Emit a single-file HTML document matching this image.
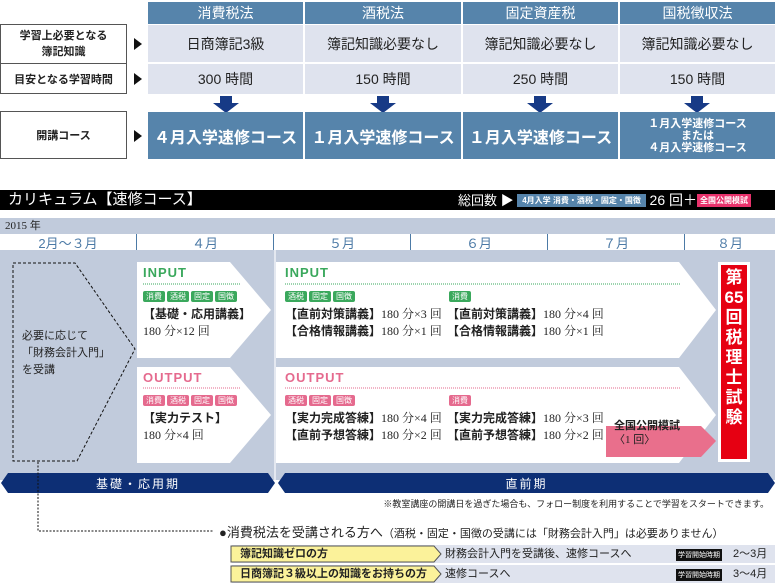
<!DOCTYPE html>
<html><head><meta charset="utf-8">
<style>
*{margin:0;padding:0;box-sizing:border-box}
body{width:775px;height:586px;position:relative;background:#fff;font-family:"Liberation Sans","Noto Sans CJK JP",sans-serif;color:#222;overflow:hidden}
.a{position:absolute}
.c{display:flex;align-items:center;justify-content:center;text-align:center}
.hd{background:#5684ab;color:#fff;font-size:14px}
.lt{background:#dfe3ee;font-size:14px}
.cr{background:#5684ab;color:#fff;font-weight:bold;font-size:16px}
.lb{border:1.5px solid #555;font-size:11px;font-weight:bold;background:#fff}
.tri{width:0;height:0;border-left:8px solid #111;border-top:6px solid transparent;border-bottom:6px solid transparent}
.tg{line-height:11px;height:11px;font-size:0}
.tag{display:inline-block;font-size:8px;color:#fff;padding:0 3px;margin-right:2px;border-radius:2px;line-height:11px;height:11px}
.g{background:#3aa85c}.p{background:#e56a8e}
.t{font-size:12px;line-height:17px;font-family:"Liberation Serif","Noto Serif CJK SC",serif}
.t b{font-family:"Liberation Sans","Noto Sans CJK JP",sans-serif}
.hi{font-weight:bold;font-size:13px;letter-spacing:1px}
</style></head><body>
<div class="a hd c" style="left:148px;top:2px;width:155px;height:22px">消費税法</div>
<div class="a hd c" style="left:305px;top:2px;width:156px;height:22px">酒税法</div>
<div class="a hd c" style="left:463px;top:2px;width:155px;height:22px">固定資産税</div>
<div class="a hd c" style="left:620px;top:2px;width:155px;height:22px">国税徴収法</div>
<div class="a lt c" style="left:148px;top:25px;width:155px;height:37px">日商簿記3級</div>
<div class="a lt c" style="left:305px;top:25px;width:156px;height:37px">簿記知識必要なし</div>
<div class="a lt c" style="left:463px;top:25px;width:155px;height:37px">簿記知識必要なし</div>
<div class="a lt c" style="left:620px;top:25px;width:155px;height:37px">簿記知識必要なし</div>
<div class="a lt c" style="left:148px;top:64px;width:155px;height:30px">300 時間</div>
<div class="a lt c" style="left:305px;top:64px;width:156px;height:30px">150 時間</div>
<div class="a lt c" style="left:463px;top:64px;width:155px;height:30px">250 時間</div>
<div class="a lt c" style="left:620px;top:64px;width:155px;height:30px">150 時間</div>
<svg class="a" style="left:0;top:94px" width="775" height="20">
<g fill="#173a86">
<path d="M220 2h12v7h7l-13 10-13-10h7z"/><path d="M377 2h12v7h7l-13 10-13-10h7z"/>
<path d="M534 2h12v7h7l-13 10-13-10h7z"/><path d="M691 2h12v7h7l-13 10-13-10h7z"/></g></svg>
<div class="a cr c" style="left:148px;top:112px;width:155px;height:47px">４月入学速修コース</div>
<div class="a cr c" style="left:305px;top:112px;width:156px;height:47px">１月入学速修コース</div>
<div class="a cr c" style="left:463px;top:112px;width:155px;height:47px">１月入学速修コース</div>
<div class="a cr c" style="left:620px;top:112px;width:155px;height:47px;font-size:11px;line-height:12px">１月入学速修コース<br>または<br>４月入学速修コース</div>
<div class="a lb c" style="left:0;top:24px;width:127px;height:40px;line-height:16px">学習上必要となる<br>簿記知識</div>
<div class="a lb c" style="left:0;top:63px;width:127px;height:31px">目安となる学習時間</div>
<div class="a lb c" style="left:0;top:111px;width:127px;height:48px">開講コース</div>
<div class="a tri" style="left:134px;top:38px"></div>
<div class="a tri" style="left:134px;top:73px"></div>
<div class="a tri" style="left:134px;top:130px"></div>
<div class="a" style="left:0;top:190px;width:775px;height:20px;background:#000"></div>
<div class="a" style="left:8px;top:190px;color:#fff;font-size:15px;line-height:20px">カリキュラム【速修コース】</div>
<div class="a" style="left:458px;top:190px;color:#fff;font-size:13px;line-height:20px;white-space:nowrap">総回数 ▶ <span style="background:#5684ab;font-size:8px;font-weight:bold;padding:2px 5px;vertical-align:2px">4月入学 消費・酒税・固定・国徴</span> <span style="font-size:14px">26 回＋</span><span style="background:#e8326c;font-size:8px;font-weight:bold;padding:2px 3px;vertical-align:2px">全国公開模試</span></div>
<div class="a" style="left:0;top:218px;width:775px;height:262px;background:#c1cbdc"></div>
<div class="a" style="left:5px;top:218px;font-size:11px;font-family:'Liberation Serif',serif;line-height:16px">2015 年</div>
<div class="a" style="left:0;top:234px;width:775px;height:16px;background:#fff"></div>
<div class="a c" style="left:0;top:234px;width:137px;height:16px;color:#4c7aa6;font-size:13px;border-right:1px solid #4c7aa6">2月～３月</div>
<div class="a c" style="left:137px;top:234px;width:137px;height:16px;color:#4c7aa6;font-size:13px;border-right:1px solid #4c7aa6">４月</div>
<div class="a c" style="left:274px;top:234px;width:137px;height:16px;color:#4c7aa6;font-size:13px;border-right:1px solid #4c7aa6">５月</div>
<div class="a c" style="left:411px;top:234px;width:137px;height:16px;color:#4c7aa6;font-size:13px;border-right:1px solid #4c7aa6">６月</div>
<div class="a c" style="left:548px;top:234px;width:137px;height:16px;color:#4c7aa6;font-size:13px;border-right:1px solid #4c7aa6">７月</div>
<div class="a c" style="left:685px;top:234px;width:90px;height:16px;color:#4c7aa6;font-size:13px">８月</div>
<div class="a" style="left:274px;top:250px;width:2px;height:230px;background:#e4e8f0"></div>
<svg class="a" style="left:0;top:250px" width="775" height="230">
<g fill="#fff">
<path d="M137 12h93l41 48-41 48h-93z"/><path d="M137 117h93l41 48-41 48h-93z"/>
<path d="M276 12h403l37 48-37 48h-403z"/><path d="M276 117h403l37 48-37 48h-403z"/>
</g>
<path d="M13 13h62l60 86-58 112h-64z" fill="none" stroke="#111" stroke-dasharray="3,2" stroke-width="1"/>
<path d="M606 176h95l15 15-15 16h-95z" fill="#e96f8c"/>
<rect x="718" y="12" width="32" height="200" fill="#fff"/>
<rect x="721" y="15" width="26" height="194" fill="#e60012"/>
<g stroke-dasharray="1,1" stroke-width="1">
<line x1="143" y1="34" x2="240" y2="34" stroke="#3aa85c"/><line x1="285" y1="34" x2="680" y2="34" stroke="#3aa85c"/>
<line x1="143" y1="138" x2="240" y2="138" stroke="#e56a8e"/><line x1="285" y1="138" x2="680" y2="138" stroke="#e56a8e"/>
</g></svg>
<div class="a" style="left:22px;top:328px;font-size:11px;line-height:17px">必要に応じて<br>「財務会計入門」<br>を受講</div>
<div class="a hi" style="left:143px;top:265px;color:#3aa85c">INPUT</div>
<div class="a tg" style="left:143px;top:291px"><span class="tag g">消費</span><span class="tag g">酒税</span><span class="tag g">固定</span><span class="tag g">国徴</span></div>
<div class="a t" style="left:143px;top:306px"><b>【基礎・応用講義】</b><br>180 分×12 回</div>
<div class="a hi" style="left:143px;top:370px;color:#e56a8e">OUTPUT</div>
<div class="a tg" style="left:143px;top:395px"><span class="tag p">消費</span><span class="tag p">酒税</span><span class="tag p">固定</span><span class="tag p">国徴</span></div>
<div class="a t" style="left:143px;top:410px"><b>【実力テスト】</b><br>180 分×4 回</div>
<div class="a hi" style="left:285px;top:265px;color:#3aa85c">INPUT</div>
<div class="a tg" style="left:285px;top:291px"><span class="tag g">酒税</span><span class="tag g">固定</span><span class="tag g">国徴</span></div>
<div class="a t" style="left:285px;top:306px;white-space:nowrap"><b>【直前対策講義】</b>180 分×3 回<br><b>【合格情報講義】</b>180 分×1 回</div>
<div class="a tg" style="left:449px;top:291px"><span class="tag g">消費</span></div>
<div class="a t" style="left:447px;top:306px;white-space:nowrap"><b>【直前対策講義】</b>180 分×4 回<br><b>【合格情報講義】</b>180 分×1 回</div>
<div class="a hi" style="left:285px;top:370px;color:#e56a8e">OUTPUT</div>
<div class="a tg" style="left:285px;top:395px"><span class="tag p">酒税</span><span class="tag p">固定</span><span class="tag p">国徴</span></div>
<div class="a t" style="left:285px;top:410px;white-space:nowrap"><b>【実力完成答練】</b>180 分×4 回<br><b>【直前予想答練】</b>180 分×2 回</div>
<div class="a tg" style="left:449px;top:395px"><span class="tag p">消費</span></div>
<div class="a t" style="left:447px;top:410px;white-space:nowrap"><b>【実力完成答練】</b>180 分×3 回<br><b>【直前予想答練】</b>180 分×2 回</div>
<div class="a" style="left:614px;top:419px;font-size:11px;font-weight:bold;line-height:14px">全国公開模試<br><span style="font-weight:normal;font-family:'Liberation Serif',serif">〈1 回〉</span></div>
<div class="a" style="left:721px;top:268px;width:26px;color:#fff;font-weight:bold;font-size:17px;line-height:20px;text-align:center">第<br>65<br>回<br>税<br>理<br>士<br>試<br>験</div>
<svg class="a" style="left:0;top:473px" width="775" height="20">
<path d="M8 0h260l7 10-7 10h-260l-7-10z" fill="#0d2f75"/>
<path d="M285 0h483l7 10-7 10h-483l-7-10z" fill="#0d2f75"/>
</svg>
<div class="a c" style="left:0;top:473px;width:276px;height:20px;color:#fff;font-size:12px;letter-spacing:2px">基礎・応用期</div>
<div class="a c" style="left:278px;top:473px;width:497px;height:20px;color:#fff;font-size:12px;letter-spacing:2px">直前期</div>
<div class="a" style="right:6px;top:497px;font-size:9px;white-space:nowrap">※教室講座の開講日を過ぎた場合も、フォロー制度を利用することで学習をスタートできます。</div>
<svg class="a" style="left:0;top:460px" width="220" height="75"><path d="M38 2v69h176" fill="none" stroke="#111" stroke-dasharray="2,1.5"/></svg>
<div class="a" style="left:219px;top:522px;font-size:13px;white-space:nowrap">●消費税法を受講される方へ<span style="font-size:11px">（酒税・固定・国徴の受講には「財務会計入門」は必要ありません）</span></div>
<div class="a" style="left:232px;top:545px;width:543px;height:18px;background:#dfe3ee"></div>
<div class="a" style="left:232px;top:565px;width:543px;height:18px;background:#dfe3ee"></div>
<svg class="a" style="left:230px;top:545px" width="215" height="40">
<path d="M1 1h203l7 8-7 8h-203z" fill="#fbf29a" stroke="#555"/>
<path d="M1 21h203l7 8-7 8h-203z" fill="#fbf29a" stroke="#555"/></svg>
<div class="a" style="left:240px;top:545px;font-size:11px;font-weight:bold;line-height:18px">簿記知識ゼロの方</div>
<div class="a" style="left:240px;top:565px;font-size:11px;font-weight:bold;line-height:18px">日商簿記３級以上の知識をお持ちの方</div>
<div class="a" style="left:445px;top:545px;font-size:11px;line-height:18px">財務会計入門を受講後、速修コースへ</div>
<div class="a" style="left:445px;top:565px;font-size:11px;line-height:18px">速修コースへ</div>
<div class="a" style="left:676px;top:549px;background:#111;color:#fff;font-size:7px;padding:1px 2px">学習開始時期</div>
<div class="a" style="left:676px;top:569px;background:#111;color:#fff;font-size:7px;padding:1px 2px">学習開始時期</div>
<div class="a" style="left:733px;top:545px;font-size:11px;line-height:18px">2～3月</div>
<div class="a" style="left:733px;top:565px;font-size:11px;line-height:18px">3～4月</div>
</body></html>
